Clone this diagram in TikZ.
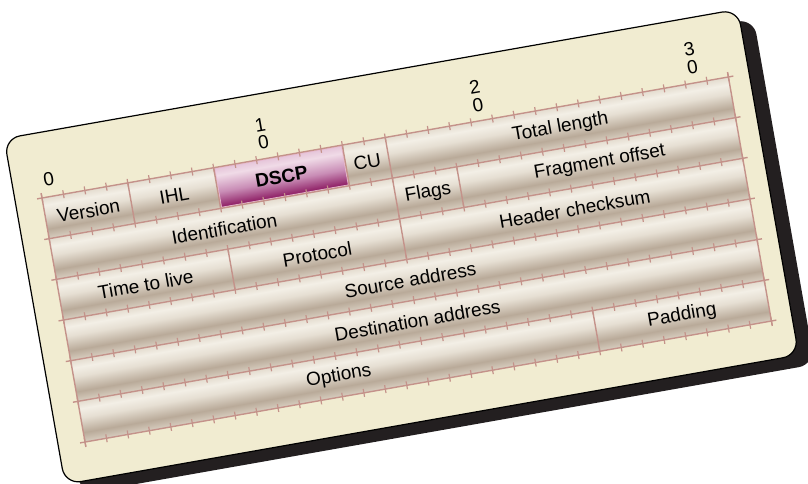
\documentclass[tikz,border=0pt]{standalone}
\usepackage{fontspec}
\setmainfont{Liberation Sans}
\definecolor{cream}{HTML}{F1ECD1}
\definecolor{shadowc}{HTML}{231F20}
\definecolor{gridc}{HTML}{C4928A}
\definecolor{rsA}{HTML}{E4DCCF}
\definecolor{rsB}{HTML}{F3EFE6}
\definecolor{rsC}{HTML}{E6DFD3}
\definecolor{rsD}{HTML}{B9AA99}
\definecolor{rsE}{HTML}{D8CEC0}
\definecolor{dsA}{HTML}{E6C6DA}
\definecolor{dsB}{HTML}{F0DBE7}
\definecolor{dsC}{HTML}{C98DB6}
\definecolor{dsD}{HTML}{8C1B62}
\definecolor{dsBorder}{HTML}{E9B9D3}
\pgfdeclareverticalshading{rowshade}{100bp}{color(0bp)=(rsE); color(25bp)=(rsE); color(37bp)=(rsD); color(55bp)=(rsC); color(66bp)=(rsB); color(75bp)=(rsA); color(100bp)=(rsA)}
\pgfdeclareverticalshading{dscpshade}{100bp}{color(0bp)=(dsD); color(25bp)=(dsD); color(45bp)=(dsC); color(66bp)=(dsB); color(75bp)=(dsA); color(100bp)=(dsA)}
\def\bw{21.78}
\def\rh{41.3}
\newcommand\fieldcell[6]{%
  \shade[shading=#6] ({#2*\bw},{(#4-1)*\rh}) rectangle ({#3*\bw},{#4*\rh});
  \node[fieldtext] (#1) at ({(#2+#3)/2*\bw},{(#4-0.5)*\rh}) {#5};
}
\begin{document}
\begin{tikzpicture}[x=1bp,y=-1bp,
  fieldtext/.style={inner sep=0pt, font=\fontsize{19bp}{21bp}\selectfont},
  bitlabel/.style={inner sep=0pt, align=center, font=\fontsize{19bp}{18bp}\selectfont},
  gridline/.style={draw=gridc, line width=1.4bp},
  tickline/.style={draw=gridc, line width=1.2bp}]
\useasboundingbox (0,0) rectangle (808,484);
\begin{scope}[transform canvas={shift={(42,198)},rotate=10}]
  % card and shadow
  \fill[shadowc, rounded corners=16bp] (-13,-53) rectangle (732,298);
  \filldraw[fill=cream, draw=black, line width=1.2bp, rounded corners=16bp] (-27,-65) rectangle (718,286);
  % row 1
  \fieldcell{version}{0}{4}{1}{Version}{rowshade}
  \fieldcell{ihl}{4}{8}{1}{IHL}{rowshade}
  \shade[shading=dscpshade] ({8*\bw+1},{1}) rectangle ({14*\bw-1},{\rh-1});
  \draw[dsBorder, line width=0.8bp] ({8*\bw+1},{1}) rectangle ({14*\bw-1},{\rh-1});
  \node[fieldtext, font=\fontsize{19bp}{21bp}\selectfont\bfseries] (dscp) at ({11*\bw},{0.5*\rh}) {DSCP};
  \fieldcell{cu}{14}{16}{1}{CU}{rowshade}
  \fieldcell{totallength}{16}{32}{1}{Total length}{rowshade}
  % row 2
  \fieldcell{identification}{0}{16}{2}{Identification}{rowshade}
  \fieldcell{flags}{16}{19}{2}{Flags}{rowshade}
  \fieldcell{fragoffset}{19}{32}{2}{Fragment offset}{rowshade}
  % row 3
  \fieldcell{ttl}{0}{8}{3}{Time to live}{rowshade}
  \fieldcell{protocol}{8}{16}{3}{Protocol}{rowshade}
  \fieldcell{checksum}{16}{32}{3}{Header checksum}{rowshade}
  % rows 4-6
  \fieldcell{source}{0}{32}{4}{Source address}{rowshade}
  \fieldcell{destination}{0}{32}{5}{Destination address}{rowshade}
  \fieldcell{options}{0}{24}{6}{Options}{rowshade}
  \fieldcell{padding}{24}{32}{6}{Padding}{rowshade}
  % grid lines
  \foreach \r in {0,...,6} {
    \draw[gridline] (-5,{\r*\rh}) -- ({32*\bw+5},{\r*\rh});
    \foreach \b in {0,...,32} {
      \draw[tickline] ({\b*\bw},{\r*\rh-4}) -- ({\b*\bw},{\r*\rh+4});
    }
  }
  \draw[gridline] (0,-5) -- (0,{6*\rh+5});
  \draw[gridline] ({32*\bw},-5) -- ({32*\bw},{6*\rh+5});
  \foreach \b in {4,8,14,16} \draw[gridline] ({\b*\bw},0) -- ({\b*\bw},{\rh});
  \foreach \b in {16,19} \draw[gridline] ({\b*\bw},{\rh}) -- ({\b*\bw},{2*\rh});
  \foreach \b in {8,16} \draw[gridline] ({\b*\bw},{2*\rh}) -- ({\b*\bw},{3*\rh});
  \draw[gridline] ({24*\bw},{5*\rh}) -- ({24*\bw},{6*\rh});
  % bit labels
  \node[bitlabel] (bit0) at ({0.45*\bw},-17) {0};
  \node[bitlabel] (bit10) at ({10.45*\bw},-25) {1\\0};
  \node[bitlabel] (bit20) at ({20.45*\bw},-25) {2\\0};
  \node[bitlabel] (bit30) at ({30.45*\bw},-25) {3\\0};
\end{scope}
\end{tikzpicture}
\end{document}
